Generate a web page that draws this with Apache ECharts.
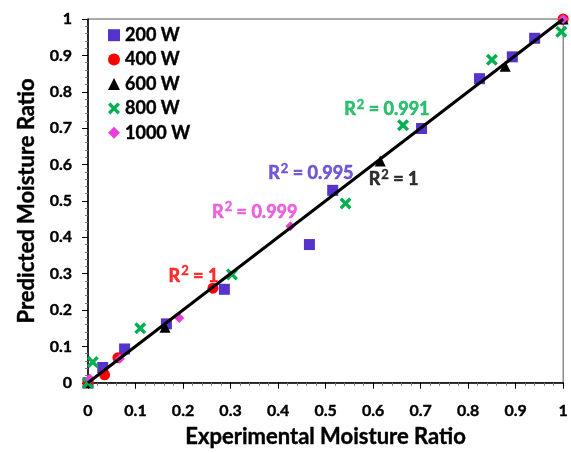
<!DOCTYPE html>
<html>
<head>
<meta charset="utf-8">
<script src="https://cdn.jsdelivr.net/npm/echarts@6/dist/echarts.min.js"></script>
<style>
  html, body { margin: 0; padding: 0; background: #fff; }
  #main { width: 571px; height: 453px; }
</style>
</head>
<body>
<div id="main"></div>
<script>
// experimental vs predicted moisture ratio, per power level
var names = ['200 W', '400 W', '600 W', '800 W', '1000 W'];

var w200 = [[0, 0], [0.031, 0.042], [0.077, 0.093], [0.165, 0.162], [0.287, 0.257],
  [0.466, 0.380], [0.515, 0.529], [0.702, 0.699], [0.824, 0.836], [0.893, 0.896],
  [0.940, 0.947]];
var w400 = [[0, 0], [0.035, 0.022], [0.063, 0.069], [0.263, 0.260], [1, 1]];
var w600 = [[0, 0], [0.162, 0.153], [0.615, 0.610], [0.878, 0.870], [1, 1]];
var w800 = [[0, 0], [0.010, 0.057], [0.110, 0.150], [0.303, 0.298], [0.542, 0.493],
  [0.663, 0.708], [0.850, 0.888], [0.996, 0.965]];
var w1000 = [[0.004, 0.011], [0.067, 0.066], [0.192, 0.178], [0.426, 0.430], [1, 1]];

var fitLine = [[0, 0], [1, 1]];

// R² annotations: value, position, which series colour
var r2Vals = ['0.995', '1', '1', '0.991', '0.999'];
var r2Pos = [[0.469, 0.578], [0.222, 0.297], [0.643, 0.563], [0.629, 0.755], [0.351, 0.473]];
var r2Series = [0, 1, 2, 3, 4];

var colors = ['#5533CC', '#FF0000', '#000000', '#00B050', '#E83FDA'];
var symbols = ['rect', 'circle', 'triangle',
  'path://M2,0 L5,3 L8,0 L10,2 L7,5 L10,8 L8,10 L5,7 L2,10 L0,8 L3,5 L0,2 Z',
  'diamond'];
var sizes = [11, 11, 11, 12, 10];
var allData = [w200, w400, w600, w800, w1000];

var font = 'Lato, "Open Sans", sans-serif';

var series = names.map(function (n, i) {
  return {
    name: n,
    type: 'scatter',
    data: allData[i],
    symbol: symbols[i],
    symbolSize: sizes[i],
    itemStyle: {color: colors[i], opacity: 1},
    z: 2
  };
});

series.push({
  name: 'fit',
  type: 'line',
  data: fitLine,
  symbol: 'none',
  lineStyle: {color: '#000', width: 3},
  z: 5,
  silent: true
});

series.push({
  name: 'r2',
  type: 'scatter',
  symbolSize: 0,
  z: 6,
  silent: true,
  data: r2Vals.map(function (v, i) {
    var c = colors[r2Series[i]];
    return {
      value: r2Pos[i],
      name: v,
      label: {rich: {
        r: {color: c, textBorderColor: c},
        s: {color: c, textBorderColor: c}
      }}
    };
  }),
  label: {
    show: true,
    position: 'inside',
    formatter: function (p) {
      return '{r|R}{s|2}{r| = ' + p.name + '}';
    },
    rich: {
      r: {fontFamily: font, fontWeight: 'bold', fontSize: 18, lineHeight: 20,
        verticalAlign: 'bottom', textBorderWidth: 0.6},
      s: {fontFamily: font, fontWeight: 'bold', fontSize: 13, lineHeight: 20,
        verticalAlign: 'top', padding: [0, 0, 0, 1], textBorderWidth: 0.4}
    }
  }
});

function tickFmt(v) {
  return String(+v.toFixed(1));
}

var boldText = {
  fontFamily: font,
  fontWeight: 'bold',
  color: '#000',
  textBorderColor: '#000',
  textBorderWidth: 0.4
};

var axisCommon = {
  min: 0,
  max: 1,
  interval: 0.1,
  axisLine: {show: true, lineStyle: {color: '#000', width: 1.5}},
  axisTick: {show: true, inside: false, length: 6, lineStyle: {color: '#000'}},
  minorTick: {show: true, splitNumber: 5, length: 3, lineStyle: {color: '#777'}},
  splitLine: {show: false},
  axisLabel: Object.assign({formatter: tickFmt, fontSize: 16}, boldText),
  nameLocation: 'middle',
  nameTextStyle: Object.assign({fontSize: 22}, boldText)
};

var myChart = echarts.init(document.getElementById('main'));

var option = {
  animation: false,
  backgroundColor: '#fff',
  grid: {
    left: 88, right: 3, top: 19, bottom: 67,
    show: true,
    borderColor: '#555',
    borderWidth: 1
  },
  legend: {
    data: names,
    orient: 'vertical',
    left: 103,
    top: 21,
    itemWidth: 12,
    itemHeight: 12,
    itemGap: 6,
    textStyle: Object.assign({fontSize: 18, lineHeight: 17}, boldText)
  },
  xAxis: Object.assign({}, axisCommon, {
    type: 'value',
    name: 'Experimental Moisture Ratio',
    nameGap: 43,
    axisLabel: Object.assign({}, axisCommon.axisLabel, {margin: 20})
  }),
  yAxis: Object.assign({}, axisCommon, {
    type: 'value',
    name: 'Predicted Moisture Ratio',
    nameGap: 50,
    axisLabel: Object.assign({}, axisCommon.axisLabel, {margin: 16})
  }),
  series: series
};

myChart.setOption(option);
</script>
</body>
</html>
